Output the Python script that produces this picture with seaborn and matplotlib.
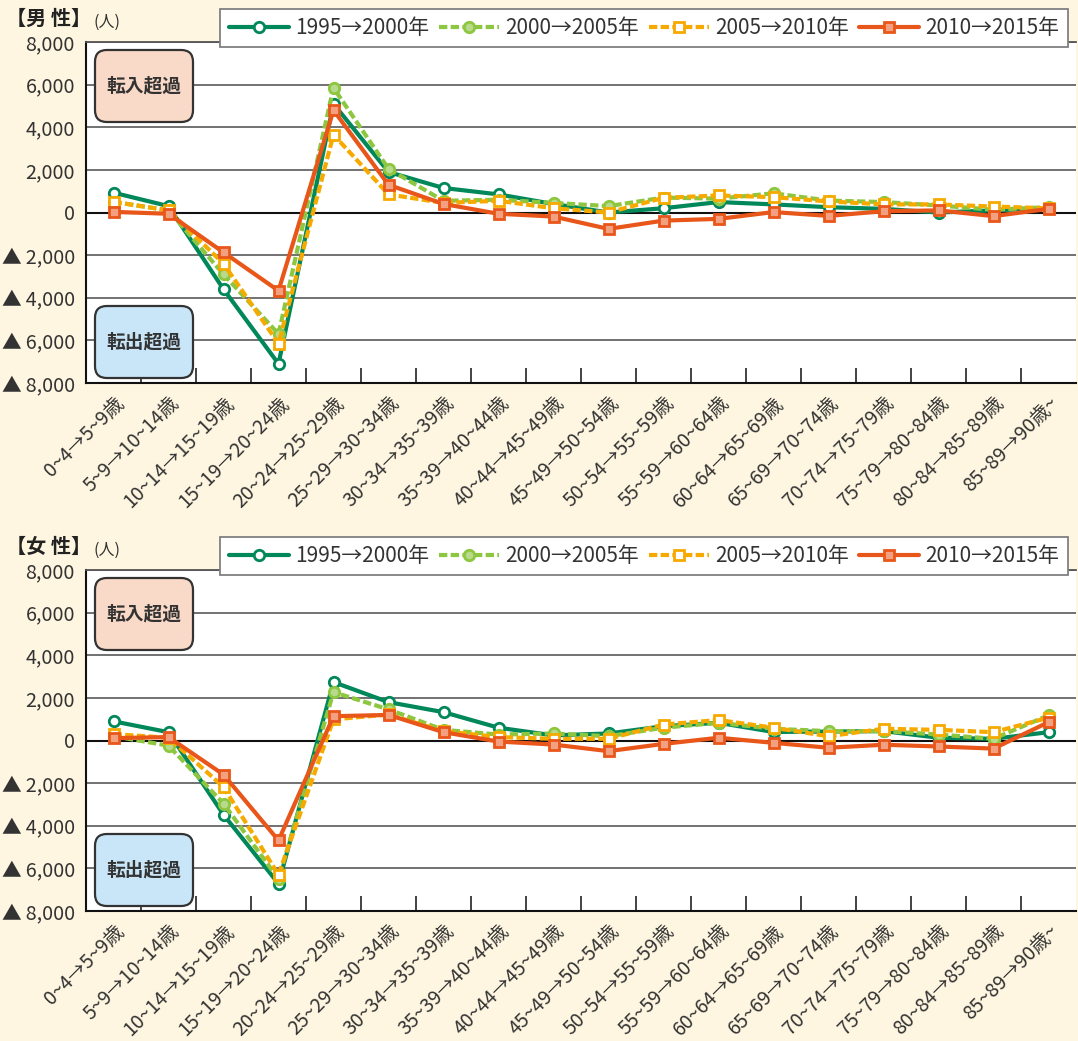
import numpy as np
import pandas as pd
import matplotlib
matplotlib.use("Agg")
import matplotlib.pyplot as plt
import seaborn as sns
from matplotlib.patches import FancyBboxPatch

sns.set_theme(style="white")
plt.rcParams["font.family"] = ["Noto Sans CJK JP", "DejaVu Sans"]

# age group transitions
categories = ["0~4→5~9歳", "5~9→10~14歳", "10~14→15~19歳", "15~19→20~24歳",
              "20~24→25~29歳", "25~29→30~34歳", "30~34→35~39歳", "35~39→40~44歳",
              "40~44→45~49歳", "45~49→50~54歳", "50~54→55~59歳", "55~59→60~64歳",
              "60~64→65~69歳", "65~69→70~74歳", "70~74→75~79歳", "75~79→80~84歳",
              "80~84→85~89歳", "85~89→90歳~"]
periods = ["1995→2000年", "2000→2005年", "2005→2010年", "2010→2015年"]

# male net migration (persons)
male_1995 = [930, 300, -3600, -7100, 5100, 1900, 1150, 850, 400, 0,
             200, 490, 380, 250, 170, 0, 100, 200]
male_2000 = [500, 100, -2900, -5700, 5850, 2050, 550, 600, 450, 300,
             700, 650, 900, 560, 490, 330, 130, 250]
male_2005 = [500, 100, -2400, -6150, 3650, 850, 450, 550, 200, 0,
             690, 800, 720, 520, 380, 380, 280, 200]
male_2010 = [30, -60, -1870, -3670, 4800, 1300, 400, -60, -190, -770,
             -380, -300, 20, -160, 60, 100, -170, 170]

# female net migration (persons)
female_1995 = [900, 390, -3480, -6720, 2740, 1800, 1330, 600, 240, 330,
               670, 830, 400, 420, 440, 130, 80, 390]
female_2000 = [200, -240, -2960, -6500, 2270, 1460, 500, 280, 330, 200,
               600, 830, 550, 440, 440, 280, 80, 1180]
female_2005 = [300, 130, -2180, -6300, 990, 1220, 440, 160, 80, 80,
               750, 960, 600, 200, 550, 500, 390, 1070]
female_2010 = [110, 160, -1600, -4690, 1140, 1200, 390, -50, -190, -500,
               -160, 130, -110, -340, -200, -280, -380, 860]

ytick_vals = [-8000, -6000, -4000, -2000, 0, 2000, 4000, 6000, 8000]
ytick_labels = ["▲\u20098,000", "▲\u20096,000", "▲\u20094,000", "▲\u20092,000", "0",
                "2,000", "4,000", "6,000", "8,000"]

styles = [
    dict(color="#00875A", linestyle="-", marker="o", markerfacecolor="white",
         markeredgecolor="#00875A"),
    dict(color="#8DC63F", linestyle=(0, (2.0, 0.8)), marker="o",
         markerfacecolor="#B8DA8C", markeredgecolor="#8DC63F"),
    dict(color="#F6AA00", linestyle=(0, (2.0, 0.8)), marker="s",
         markerfacecolor="white", markeredgecolor="#F6AA00"),
    dict(color="#E9561A", linestyle="-", marker="s",
         markerfacecolor="#F2A080", markeredgecolor="#E9561A"),
]

W, H = 1078, 1041
bg = "#FEF6E1"
fig = plt.figure(figsize=(W / 100, H / 100), dpi=100, facecolor=bg)


def fx(px):
    return px / W


def fy(py):
    return 1 - py / H


def panel(top_px, title, series):
    ax = fig.add_axes([fx(86), fy(top_px + 341), 990 / W, 341 / H])
    ax.set_facecolor("white")
    df = pd.DataFrame({"idx": np.arange(len(categories))})
    handles = []
    for name, vals, st in zip(periods, series, styles):
        df[name] = vals
        sns.lineplot(data=df, x="idx", y=name, ax=ax, lw=3, markersize=7.5,
                     markeredgewidth=2, label=name, legend=False, **st)
        handles.append(ax.lines[-1])
    ax.set_xlim(-0.5, len(categories) - 0.5)
    ax.set_ylim(-8000, 8000)
    ax.set_yticks(ytick_vals, ytick_labels, fontsize=14.2, color="#333333")
    ax.set_xticks(range(len(categories)))
    ax.set_xticklabels(categories, rotation=45, ha="right", va="top",
                       rotation_mode="anchor", fontsize=14, color="#333333")
    ax.set_xticks(np.arange(0.5, len(categories) - 0.5, 1), minor=True)
    ax.tick_params(axis="x", which="major", length=0, pad=7)
    ax.tick_params(axis="x", which="minor", length=11, direction="in",
                   width=1.2, color="#222222", bottom=True)
    ax.tick_params(axis="y", length=0, pad=8)
    ax.yaxis.grid(True, color="#666666", lw=1.3)
    ax.xaxis.grid(False)
    ax.axhline(0, color="#111111", lw=1.5, zorder=1.5)
    ax.set_xlabel("")
    ax.set_ylabel("")
    for s in ["left", "bottom"]:
        ax.spines[s].set_color("#111111")
        ax.spines[s].set_linewidth(1.5)
    ax.spines["top"].set_color("#555555")
    ax.spines["top"].set_linewidth(1.3)
    ax.spines["right"].set_visible(False)

    leg = fig.legend(handles, periods, loc="center",
                     bbox_to_anchor=(fx(644), fy(top_px - 14)), ncol=4,
                     fontsize=15, frameon=True, fancybox=False,
                     edgecolor="#808080", framealpha=1, handlelength=2.9,
                     handletextpad=0.3, columnspacing=0.45, borderpad=0.4)
    leg.get_frame().set_linewidth(1.3)
    for t in leg.get_texts():
        t.set_color("#333333")

    fig.text(fx(6), fy(top_px - 24), title, fontsize=14.5, fontweight="bold",
             va="center", ha="left", color="#222222")
    fig.text(fx(94), fy(top_px - 20), "(人)", fontsize=11.5, va="center",
             ha="left", color="#333333")

    for label, y0, fc in [("転入超過", top_px + 8, "#F9D9C7"),
                          ("転出超過", top_px + 264, "#C9E6F8")]:
        box = FancyBboxPatch((fx(95), fy(y0 + 72)), 98 / W, 72 / H,
                             boxstyle="round,pad=0,rounding_size=0.011",
                             mutation_aspect=W / H, transform=fig.transFigure,
                             fc=fc, ec="#333333", lw=1.6, zorder=6)
        fig.add_artist(box)
        fig.text(fx(144), fy(y0 + 36), label, fontsize=13.5, fontweight="bold",
                 ha="center", va="center", color="#333333", zorder=7)
    return ax


panel(42, "【男 性】", [male_1995, male_2000, male_2005, male_2010])
panel(570, "【女 性】", [female_1995, female_2000, female_2005, female_2010])

fig.savefig("out.png", dpi=100, facecolor=bg)
